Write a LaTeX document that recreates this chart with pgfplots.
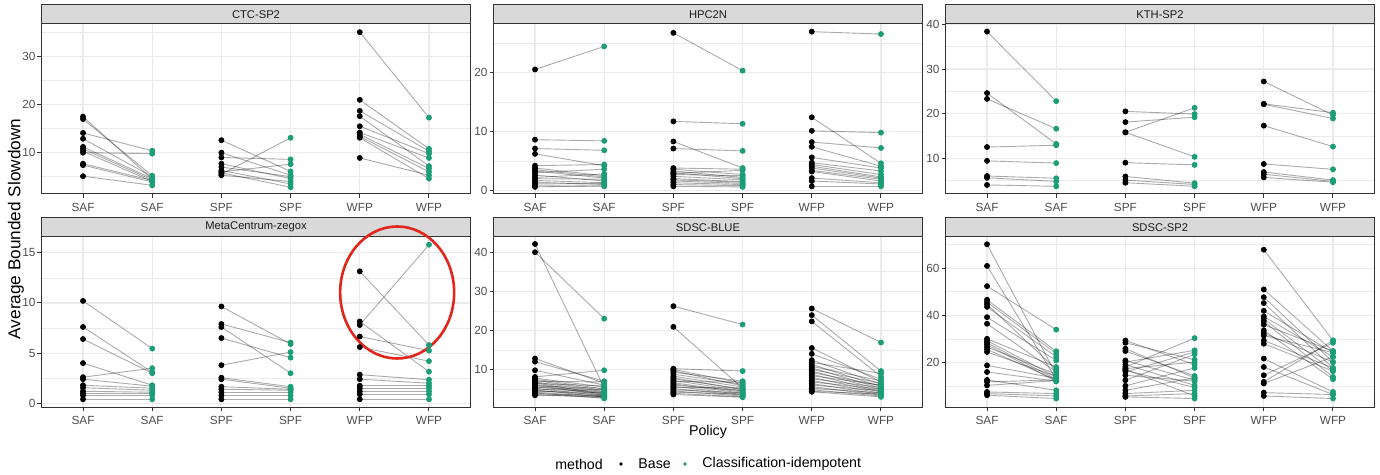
\documentclass[border=0pt]{standalone}
\usepackage{fontspec}
\setmainfont{Liberation Sans}
\usepackage{pgfplots}
\usepackage{pgfplotstable}
\pgfplotsset{compat=1.18}

\definecolor{grey10}{HTML}{1A1A1A}
\definecolor{grey20}{HTML}{333333}
\definecolor{grey30}{HTML}{4D4D4D}
\definecolor{grey85}{HTML}{D9D9D9}
\definecolor{grey92}{HTML}{EBEBEB}
\definecolor{cls}{HTML}{1B9E77}
\definecolor{ring}{HTML}{E3261B}

% g = policy slot (1 SAF, 3 SPF, 5 WFP), b = Base, c = Classification-idempotent
\pgfplotstableread{
g b c
1 17.5 4.5
1 17.0 5.2
1 14.1 10.4
1 12.9 5.0
1 11.2 4.6
1 10.8 4.3
1 10.3 4.0
1 10.0 9.8
1 7.7 4.2
1 7.4 3.9
1 5.1 3.2
3 12.6 6.1
3 10.0 5.3
3 9.0 8.6
3 7.7 4.6
3 7.0 5.0
3 6.3 3.5
3 6.0 7.6
3 5.8 2.8
3 5.5 13.1
3 5.3 4.0
5 35.1 17.3
5 21.0 10.8
5 18.7 10.3
5 17.6 7.2
5 15.5 9.8
5 14.2 8.9
5 13.8 6.7
5 13.4 6.0
5 13.1 4.6
5 8.9 5.3
}\ctc

\pgfplotstableread{
g b c
1 20.5 24.4
1 8.6 8.4
1 7.1 6.8
1 6.2 4.2
1 4.2 4.4
1 3.8 2.5
1 3.5 2.3
1 3.3 2.1
1 3.0 3.6
1 2.6 1.6
1 2.2 2.8
1 2.0 1.9
1 1.7 1.3
1 1.4 1.0
1 1.1 1.2
1 0.8 0.7
1 0.6 0.8
3 26.7 20.3
3 11.7 11.3
3 8.3 3.8
3 7.1 6.7
3 3.8 3.6
3 3.6 2.7
3 3.3 2.2
3 3.0 2.0
3 2.9 3.4
3 2.7 2.5
3 2.4 1.8
3 2.0 1.5
3 1.8 1.4
3 1.6 1.2
3 1.3 1.0
3 1.0 0.8
3 0.7 0.6
5 26.9 26.5
5 12.4 4.6
5 10.1 9.8
5 8.2 7.2
5 7.4 4.1
5 5.6 3.8
5 4.7 3.3
5 4.4 2.7
5 4.1 2.3
5 3.8 2.1
5 3.4 1.9
5 3.2 1.6
5 2.1 1.3
5 1.6 1.1
5 0.7 0.7
}\hpc

\pgfplotstableread{
g b c
1 38.4 22.8
1 24.6 13.2
1 23.3 16.6
1 12.5 12.9
1 9.4 8.9
1 6.0 5.5
1 5.6 4.8
1 4.0 3.7
3 20.5 19.9
3 18.1 19.2
3 15.8 21.3
3 15.8 10.3
3 9.0 8.5
3 5.9 4.4
3 5.1 4.1
3 4.5 3.7
5 27.2 19.7
5 22.2 20.2
5 22.1 18.9
5 17.3 12.6
5 8.7 7.5
5 6.9 5.1
5 6.4 4.8
5 5.7 4.6
}\kth

\pgfplotstableread{
g b c
1 10.2 5.45
1 7.6 3.1
1 6.4 3.0
1 4.0 1.8
1 2.6 3.5
1 2.4 1.7
1 1.8 1.5
1 1.55 1.3
1 1.2 1.1
1 1.0 1.0
1 0.8 0.8
1 0.4 0.4
3 9.65 5.9
3 7.9 6.05
3 7.6 3.0
3 6.5 4.55
3 3.8 5.1
3 2.55 1.65
3 2.4 1.5
3 1.65 1.4
3 1.4 1.3
3 1.1 1.1
3 0.8 0.8
3 0.4 0.4
5 13.15 5.8
5 7.8 15.8
5 8.15 3.15
5 6.65 5.25
5 5.6 4.2
5 2.85 2.35
5 2.4 2.0
5 1.75 1.75
5 1.5 1.5
5 1.2 1.2
5 0.9 0.9
5 0.4 0.4
}\meta

\pgfplotstableread{
g b c
1 42.1 5.3
1 40.0 23.0
1 12.8 6.5
1 12.0 7.0
1 9.8 6.0
1 8.1 9.8
1 7.8 5.5
1 7.5 5.0
1 7.2 4.6
1 7.0 6.8
1 6.8 4.3
1 6.6 3.6
1 6.4 5.8
1 6.2 4.0
1 6.0 3.4
1 5.8 5.2
1 5.6 3.8
1 5.4 4.8
1 5.2 3.2
1 5.0 4.4
1 4.8 2.9
1 4.6 3.5
1 4.4 4.1
1 4.2 3.0
1 4.0 2.6
1 3.8 3.3
1 3.6 2.8
1 3.4 3.1
3 26.2 21.5
3 20.9 5.2
3 10.2 9.6
3 10.0 6.5
3 9.7 5.8
3 9.3 7.0
3 8.8 6.2
3 8.3 5.5
3 7.9 4.8
3 7.6 5.0
3 7.2 4.5
3 6.9 6.8
3 6.6 4.2
3 6.3 3.9
3 6.0 4.6
3 5.7 3.6
3 5.4 5.3
3 5.1 3.4
3 4.8 4.0
3 4.5 3.2
3 4.2 3.7
3 3.9 3.0
3 3.6 2.9
5 25.6 16.9
5 23.9 9.6
5 22.3 8.2
5 15.5 6.8
5 14.0 7.5
5 12.4 6.2
5 11.8 9.0
5 11.3 5.6
5 10.8 7.1
5 10.4 5.2
5 10.0 6.5
5 9.6 4.8
5 9.2 5.9
5 8.8 4.4
5 8.4 6.0
5 8.0 4.2
5 7.6 5.4
5 7.2 3.9
5 6.8 5.0
5 6.4 3.6
5 6.0 4.6
5 5.6 3.4
5 5.2 4.0
5 4.8 3.2
5 4.4 3.7
5 4.3 3.0
}\blue

\pgfplotstableread{
g b c
1 70.2 14.8
1 61.0 12.8
1 52.4 33.9
1 46.6 24.7
1 45.6 23.7
1 44.7 17.0
1 43.6 22.3
1 39.2 20.8
1 36.4 15.9
1 30.0 18.0
1 29.2 13.8
1 28.3 12.8
1 27.5 11.9
1 26.5 15.0
1 25.5 12.5
1 24.4 14.0
1 18.7 13.2
1 15.9 12.0
1 12.5 8.1
1 11.7 12.5
1 10.2 12.2
1 7.4 6.7
1 6.7 5.7
1 6.0 4.6
3 29.3 19.0
3 28.3 21.1
3 25.8 13.4
3 24.8 14.2
3 20.8 12.4
3 20.1 25.1
3 19.0 10.2
3 18.0 30.3
3 17.3 20.1
3 17.0 5.7
3 16.6 9.3
3 15.9 24.4
3 14.5 12.0
3 12.4 23.4
3 10.0 17.6
3 8.1 13.4
3 6.7 8.1
3 5.7 6.7
3 5.3 4.6
5 67.9 29.3
5 51.0 24.8
5 47.7 20.1
5 45.2 17.6
5 41.9 24.1
5 39.5 22.3
5 38.5 16.3
5 37.4 13.8
5 36.0 24.8
5 33.6 12.8
5 32.4 20.1
5 31.4 24.1
5 29.3 17.6
5 27.9 16.3
5 21.6 7.4
5 18.0 6.3
5 14.5 28.3
5 11.7 29.3
5 11.0 22.3
5 7.1 6.3
5 5.7 4.6
}\sptwo

\pgfplotsset{
  facet/.style={
    scale only axis, width=214.5pt, height=85pt, anchor=south west,
    xmin=0.4, xmax=6.6, xtick={1,...,6},
    xticklabels={SAF,SAF,SPF,SPF,WFP,WFP},
    axis line style={grey20, line width=0.5pt},
    tick align=outside, xtick pos=bottom, ytick pos=left,
    major tick length=2pt, minor tick length=0pt,
    tick style={grey20, line width=0.5pt},
    grid=both,
    major grid style={grey92, line width=0.6pt},
    minor grid style={grey92, line width=0.3pt},
    ticklabel style={font=\fontsize{5.9}{7}\selectfont, text=grey30},
    xticklabel style={yshift=1pt},
    yticklabel style={xshift=2.5pt},
    /pgf/number format/assume math mode=true,
    clip=false,
  },
}

\newcommand{\pairs}[1]{%
  \addplot[black, draw opacity=0.33, line width=0.45pt,
    quiver={u=1, v=\thisrow{c}-\thisrow{b}}] table[x=g, y=b] {#1};
  \addplot[only marks, mark=*, mark size=1.25pt, black] table[x=g, y=b] {#1};
  \addplot[only marks, mark=*, mark size=1.25pt, cls] table[x expr=\thisrow{g}+1, y=c] {#1};
}
\newcommand{\strip}[1]{%
  \draw[fill=grey85, draw=grey20, line width=0.5pt] (rel axis cs:0,1) rectangle ([yshift=9.75pt]rel axis cs:1,1);
  \node[font=\fontsize{5.6}{6.5}\selectfont, text=grey10] at ([yshift=4.875pt]rel axis cs:0.5,1) {#1};
}

\begin{document}
\begin{tikzpicture}
\path[use as bounding box] (0,0) rectangle (690pt,-237.5pt);

\begin{axis}[facet, at={(20.75pt,-97pt)}, ymin=1.39, ymax=36.8,
  ytick={10,20,30}, minor ytick={5,15,25,35}]
\pairs{\ctc}
\strip{CTC-SP2}
\end{axis}

\begin{axis}[facet, at={(246.75pt,-97pt)}, ymin=-0.6, ymax=28.2,
  ytick={0,10,20}, minor ytick={5,15,25}]
\pairs{\hpc}
\strip{HPC2N}
\end{axis}

\begin{axis}[facet, at={(472.75pt,-97pt)}, ymin=1.97, ymax=40.1,
  ytick={10,20,30,40}, minor ytick={5,15,25,35}]
\pairs{\kth}
\strip{KTH-SP2}
\end{axis}

\begin{axis}[facet, at={(20.75pt,-203.5pt)}, ymin=-0.37, ymax=16.57,
  ytick={0,5,10,15}, minor ytick={2.5,7.5,12.5}]
\pairs{\meta}
\strip{MetaCentrum-zegox}
\draw[ring, line width=1.3pt] (axis cs:5.54,11.04) ellipse [x radius=28.5pt, y radius=33pt];
\end{axis}

\begin{axis}[facet, at={(246.75pt,-203.5pt)}, ymin=0.4, ymax=43.9,
  ytick={10,20,30,40}, minor ytick={5,15,25,35}]
\pairs{\blue}
\strip{SDSC-BLUE}
\end{axis}

\begin{axis}[facet, at={(472.75pt,-203.5pt)}, ymin=1.0, ymax=73.3,
  ytick={20,40,60}, minor ytick={10,30,50,70}]
\pairs{\sptwo}
\strip{SDSC-SP2}
\end{axis}

% shared axis titles
\node[rotate=90, font=\fontsize{8.6}{10}\selectfont] at (8pt,-114.5pt) {Average Bounded Slowdown};
\node[font=\fontsize{7.1}{8}\selectfont] at (354pt,-216pt) {Policy};

% legend
\node[anchor=west, inner sep=0pt, font=\fontsize{7.1}{8}\selectfont] at (277.5pt,-232pt) {method};
\fill[black] (310.5pt,-232pt) circle (0.9pt);
\node[anchor=west, inner sep=0pt, font=\fontsize{7.1}{8}\selectfont] at (319pt,-232pt) {Base};
\fill[cls] (342.5pt,-232pt) circle (0.9pt);
\node[anchor=west, inner sep=0pt, font=\fontsize{7.1}{8}\selectfont] at (351pt,-232pt) {Classification-idempotent};
\end{tikzpicture}
\end{document}
